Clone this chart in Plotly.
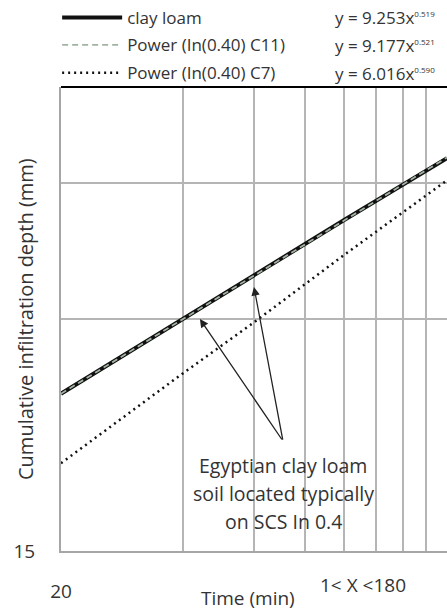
import math
import plotly.graph_objects as go

# ---- data ----
time_min = [20, 40, 60, 100, 180]
clay_loam = [24.0, 30.0, 34.1, 40.3, 48.5]
power_c11 = [24.0, 30.0, 34.1, 40.3, 48.6]
power_c7 = [19.5, 25.5, 29.7, 36.3, 45.4]

series_names = ["clay loam", "Power (In(0.40) C11)", "Power (In(0.40) C7)"]
eq_coef = ["9.253", "9.177", "6.016"]
eq_exp = ["0.519", "0.521", "0.590"]

x_tick = [20]
x_grid = [40, 60, 80, 100, 120, 140, 160]
y_tick = [15]
y_grid = [30, 45]

FONT = "Open Sans"
TXT = "#333333"

fig = go.Figure()
fig.add_trace(go.Scatter(x=time_min, y=clay_loam, mode="lines", name=series_names[0],
                         line=dict(color="#111111", width=4), legend="legend"))
fig.add_trace(go.Scatter(x=time_min, y=power_c11, mode="lines", name=series_names[1],
                         line=dict(color="#a3b3a3", width=1.8, dash="6px,4px"), legend="legend2"))
fig.add_trace(go.Scatter(x=time_min, y=power_c7, mode="lines", name=series_names[2],
                         line=dict(color="#111111", width=2.5, dash="2px,4px"), legend="legend3"))

def leg(y):
    return dict(x=-0.01, y=y, xanchor="left", yanchor="middle", bgcolor="rgba(0,0,0,0)",
                font=dict(family=FONT, size=17, color=TXT), itemwidth=60, borderwidth=0,
                visible=True)

W, H = 447, 610
L, R, T, B = 61, 0, 84, 59
pw, ph = W - L - R, H - T - B

def px(xp):
    return (xp - L) / pw

def py(yp):
    return (H - B - yp) / ph

def note(x, y, text, size=19, **kw):
    d = dict(xref="paper", yref="paper", x=x, y=y, text=text, showarrow=False,
             xanchor="center", yanchor="middle", font=dict(family=FONT, size=size, color=TXT))
    d.update(kw)
    return d

annotations = []
for i in range(3):
    eq = "y = %sx<sup><span style='font-size:8px'>%s</span></sup>" % (eq_coef[i], eq_exp[i])
    annotations.append(note(px(333), py(14 + 28 * i), eq, size=17, xanchor="left"))
annotations.append(note(px(25), 0.5, "Cumulative infiltration depth (mm)", size=20, textangle=-90))
annotations.append(note(px(248), py(598), "Time (min)"))
annotations.append(note(px(363), py(585), "1< X <180"))
for i, line in enumerate(["Egyptian clay loam", "soil located typically", "on SCS In 0.4"]):
    annotations.append(note(px(283), py(465 + 28 * i), line, size=19.5))
# arrows pointing at the clay loam curve
for hx, hy, ax, ay in [(44.1, 30.0, 83, 122), (60.0, 33.0, 29, 154)]:
    annotations.append(dict(x=math.log10(hx), y=math.log10(hy), xref="x", yref="y", text="",
                            showarrow=True, ax=ax, ay=ay, arrowhead=2, arrowsize=1.3,
                            arrowwidth=1.3, arrowcolor="#222222"))

fig.update_layout(
    width=W, height=H, margin=dict(l=L, r=R, t=T, b=B),
    paper_bgcolor="white", plot_bgcolor="white",
    font=dict(family=FONT, color=TXT), showlegend=True,
    legend=leg(py(14)), legend2=leg(py(42)), legend3=leg(py(70)),
    annotations=annotations,
    shapes=[dict(type="line", xref="paper", yref="paper", x0=0, x1=1, y0=1, y1=1,
                 line=dict(color="black", width=2))],
)
grid = dict(showgrid=True, gridcolor="#b5b5b5", gridwidth=1.5, ticks="")
fig.update_xaxes(type="log", range=[math.log10(20), math.log10(180)], tickmode="array",
                 tickvals=x_tick, ticktext=[str(v) for v in x_tick], ticks="", showgrid=False,
                 minor=dict(tickmode="array", tickvals=x_grid, **grid),
                 showline=True, linecolor="#a6a6a6", linewidth=2, zeroline=False,
                 ticklabelstandoff=22, tickfont=dict(family=FONT, size=19, color=TXT))
fig.update_yaxes(type="log", range=[math.log10(15), math.log10(60)], tickmode="array",
                 tickvals=y_tick, ticktext=[str(v) for v in y_tick], ticks="", showgrid=False,
                 minor=dict(tickmode="array", tickvals=y_grid, **grid),
                 showline=True, linecolor="#a6a6a6", linewidth=2, zeroline=False,
                 ticklabelstandoff=20, tickfont=dict(family=FONT, size=19, color=TXT))

fig.write_html("out.html", config={"displayModeBar": False},
               post_script="document.body.style.margin='0';")
